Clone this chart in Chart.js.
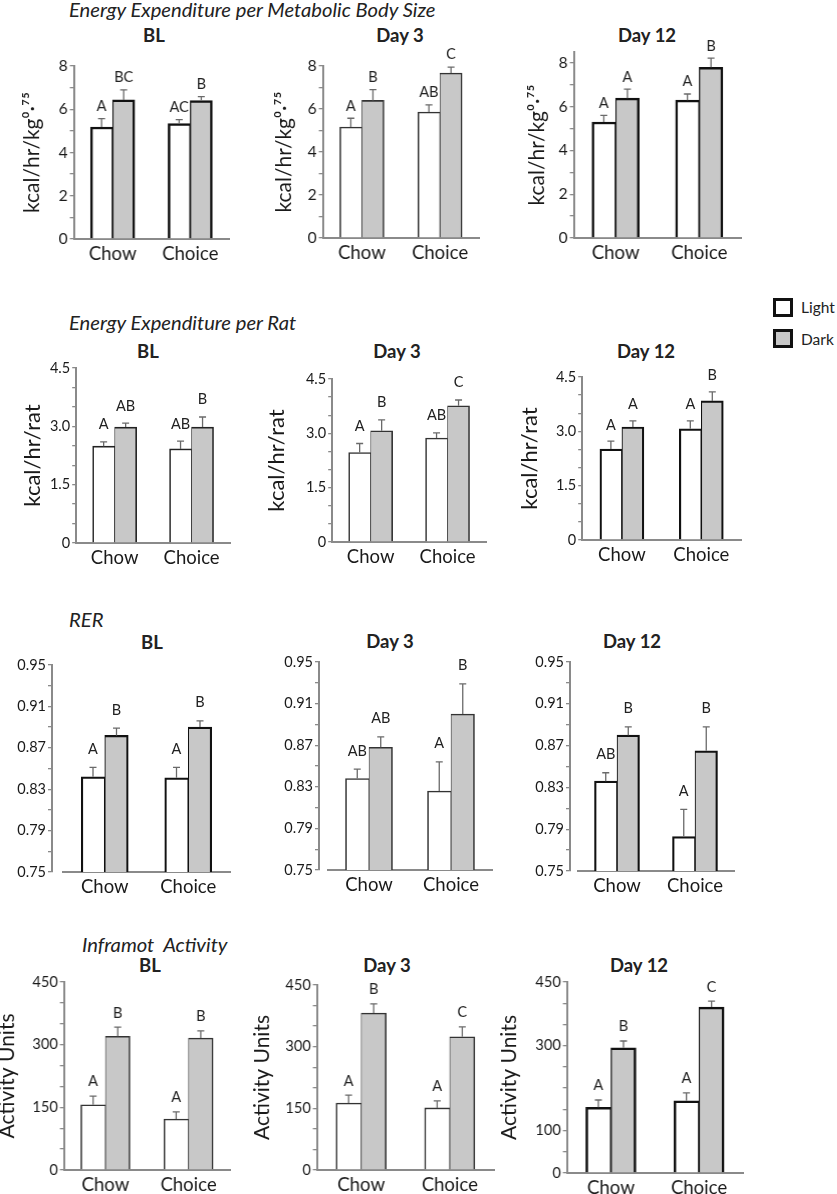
<!DOCTYPE html>
<html>
<head>
<meta charset="utf-8">
<script src="https://cdn.jsdelivr.net/npm/chart.js@4.4.0/dist/chart.umd.min.js"></script>
<style>
  body { margin: 0; background: #fff; font-family: Lato, 'Open Sans', sans-serif; color: #222; }
  #page { position: relative; width: 837px; height: 1194px; overflow: hidden; background: #fff; }
  .panel { position: absolute; }
  .section { position: absolute; font-style: italic; font-size: 20.2px; line-height: 22px; white-space: pre; transform: translateY(-50%); }
  .ptitle { position: absolute; font-weight: bold; font-size: 18.5px; line-height: 22px; white-space: nowrap; transform: translate(-50%, -50%); }
  .lbox { position: absolute; width: 14px; height: 13px; border: 3px solid #111; }
  .ltext { position: absolute; font-size: 15.5px; line-height: 18px; transform: translateY(-50%); }
</style>
</head>
<body>
<div id="page">
  <div class="section" style="left:69px; top:9px;">Energy Expenditure per Metabolic Body Size</div>
  <div class="section" style="left:69px; top:322px;">Energy Expenditure per Rat</div>
  <div class="section" style="left:69px; top:619px;">RER</div>
  <div class="section" style="left:82px; top:944px;">Inframot  Activity</div>

  <div class="ptitle" style="left:154px; top:35px;">BL</div>
  <div class="ptitle" style="left:400px; top:35px;">Day 3</div>
  <div class="ptitle" style="left:647px; top:35px;">Day 12</div>
  <div class="ptitle" style="left:148px; top:351px;">BL</div>
  <div class="ptitle" style="left:397px; top:351px;">Day 3</div>
  <div class="ptitle" style="left:646px; top:351px;">Day 12</div>
  <div class="ptitle" style="left:152px; top:642px;">BL</div>
  <div class="ptitle" style="left:390px; top:641px;">Day 3</div>
  <div class="ptitle" style="left:632px; top:641px;">Day 12</div>
  <div class="ptitle" style="left:150px; top:965px;">BL</div>
  <div class="ptitle" style="left:387px; top:965px;">Day 3</div>
  <div class="ptitle" style="left:639px; top:965px;">Day 12</div>

  <div class="lbox" style="left:773px; top:298px; background:#fff;"></div>
  <div class="ltext" style="left:801px; top:307px;">Light</div>
  <div class="lbox" style="left:773px; top:329px; background:#c8c8c8;"></div>
  <div class="ltext" style="left:801px; top:339px;">Dark</div>
</div>

<script>
const groups = ['Chow', 'Choice'];  // categories on every x axis

// tick labels, only these values get a label, the other ticks are minor marks
const mbsTicks = [0, 2, 4, 6, 8];
const ratTicks = [0, 1.5, 3.0, 4.5];
const rerTicks = [0.75, 0.79, 0.83, 0.87, 0.91, 0.95];
const actTicks = [0, 150, 300, 450];
const act12Ticks = [0, 100, 300, 450];

// Energy Expenditure per Metabolic Body Size (kcal/hr/kg^0.75)
const mbsBlLight = [5.18, 5.34];
const mbsBlLightErr = [0.39, 0.18];
const mbsBlDark = [6.43, 6.40];
const mbsBlDarkErr = [0.47, 0.18];
const mbsBlLightLetters = ['A', 'AC'];
const mbsBlDarkLetters = ['BC', 'B'];

const mbsD3Light = [5.16, 5.86];
const mbsD3LightErr = [0.41, 0.33];
const mbsD3Dark = [6.40, 7.67];
const mbsD3DarkErr = [0.50, 0.28];
const mbsD3LightLetters = ['A', 'AB'];
const mbsD3DarkLetters = ['B', 'C'];

const mbsD12Light = [5.30, 6.30];
const mbsD12LightErr = [0.30, 0.28];
const mbsD12Dark = [6.39, 7.80];
const mbsD12DarkErr = [0.41, 0.42];
const mbsD12LightLetters = ['A', 'A'];
const mbsD12DarkLetters = ['A', 'B'];

// Energy Expenditure per Rat (kcal/hr/rat)
const ratBlLight = [2.49, 2.42];
const ratBlLightErr = [0.11, 0.20];
const ratBlDark = [2.98, 2.98];
const ratBlDarkErr = [0.10, 0.26];
const ratBlLightLetters = ['A', 'AB'];
const ratBlDarkLetters = ['AB', 'B'];

const ratD3Light = [2.47, 2.87];
const ratD3LightErr = [0.25, 0.14];
const ratD3Dark = [3.07, 3.76];
const ratD3DarkErr = [0.30, 0.16];
const ratD3LightLetters = ['A', 'AB'];
const ratD3DarkLetters = ['B', 'C'];

const ratD12Light = [2.51, 3.07];
const ratD12LightErr = [0.22, 0.22];
const ratD12Dark = [3.12, 3.84];
const ratD12DarkErr = [0.17, 0.25];
const ratD12LightLetters = ['A', 'A'];
const ratD12DarkLetters = ['A', 'B'];

// RER
const rerBlLight = [0.842, 0.841];
const rerBlLightErr = [0.009, 0.010];
const rerBlDark = [0.882, 0.890];
const rerBlDarkErr = [0.007, 0.006];
const rerBlLightLetters = ['A', 'A'];
const rerBlDarkLetters = ['B', 'B'];

const rerD3Light = [0.838, 0.826];
const rerD3LightErr = [0.009, 0.028];
const rerD3Dark = [0.868, 0.900];
const rerD3DarkErr = [0.010, 0.029];
const rerD3LightLetters = ['AB', 'A'];
const rerD3DarkLetters = ['AB', 'B'];

const rerD12Light = [0.836, 0.783];
const rerD12LightErr = [0.008, 0.026];
const rerD12Dark = [0.880, 0.865];
const rerD12DarkErr = [0.008, 0.023];
const rerD12LightLetters = ['AB', 'A'];
const rerD12DarkLetters = ['B', 'B'];

// Inframot Activity (activity units)
const actBlLight = [156, 122];
const actBlLightErr = [21, 17];
const actBlDark = [320, 316];
const actBlDarkErr = [22, 17];
const actBlLightLetters = ['A', 'A'];
const actBlDarkLetters = ['B', 'B'];

const actD3Light = [163, 151];
const actD3LightErr = [19, 17];
const actD3Dark = [382, 324];
const actD3DarkErr = [22, 24];
const actD3LightLetters = ['A', 'A'];
const actD3DarkLetters = ['B', 'C'];

const actD12Light = [155, 170];
const actD12LightErr = [17, 19];
const actD12Dark = [295, 391];
const actD12DarkErr = [16, 14];
const actD12LightLetters = ['A', 'A'];
const actD12DarkLetters = ['B', 'C'];


const FONT = 'Lato, "Open Sans", sans-serif';
const AXIS = '#8a8a8a';
const PAD_TOP = 30;   // room above the chart area for tick labels and letters
const PAD_RIGHT = 6;
const X_AXIS_H = 24;  // fixed height of the category axis


// draws the upper error whisker and the letter above each bar
const errorBarPlugin = {
  id: 'errorBars',
  afterDatasetsDraw(chart) {
    let ctx = chart.ctx;
    let yScale = chart.scales.y;
    let gap = chart.options.plugins.errorBars.gap;
    chart.data.datasets.forEach((ds, i) => {
      chart.getDatasetMeta(i).data.forEach((bar, j) => {
        let top = yScale.getPixelForValue(ds.data[j] + ds.errors[j]);
        ctx.save();
        ctx.strokeStyle = '#6a6a6a';
        ctx.lineWidth = 1.3;
        ctx.beginPath();
        ctx.moveTo(bar.x, bar.y);
        ctx.lineTo(bar.x, top);
        ctx.moveTo(bar.x - 3.5, top);
        ctx.lineTo(bar.x + 3.5, top);
        ctx.stroke();
        ctx.fillStyle = '#222';
        ctx.font = '14.5px ' + FONT;
        ctx.textAlign = 'center';
        ctx.textBaseline = 'bottom';
        ctx.fillText(ds.letters[j], bar.x, top - gap);
        ctx.restore();
      });
    });
  }
};


function tickText(value, p) {
  let hit = p.ticks.find(t => Math.abs(t - value) < 1e-6);  // only major values get a label
  if (hit === undefined) return '';
  if (hit === 0) return '0';
  return hit.toFixed(p.dec);
}


function makePanel(p) {
  let gap = p.gap || 0;
  let W = p.yTitle ? p.titleOff + p.titleSize * 0.6 : p.yw;  // width of the y axis box
  let left = p.axisX - W;
  let width = W + (p.right - p.axisX) + PAD_RIGHT;
  let height = PAD_TOP + (p.zero - p.top) + X_AXIS_H;

  let canvas = document.createElement('canvas');
  canvas.className = 'panel';
  canvas.style.left = left + 'px';
  canvas.style.top = (p.top - PAD_TOP) + 'px';
  canvas.width = width;
  canvas.height = height;
  canvas.style.width = width + 'px';
  canvas.style.height = height + 'px';
  document.getElementById('page').appendChild(canvas);

  let half = p.bw / 2;
  let scales = {
    x: {
      type: 'category',
      offset: true,
      grid: { display: false },
      border: { display: true, color: AXIS, width: 2 },
      ticks: { color: '#1a1a1a', font: { size: 18.5, family: FONT }, padding: -4, maxRotation: 0 },
      afterFit: s => { s.height = X_AXIS_H; }
    },
    y: {
      type: 'linear',
      position: 'left',
      weight: 10,
      min: p.min,
      max: p.max,
      ticks: {
        stepSize: p.step,
        autoSkip: false,
        includeBounds: p.includeBounds !== false,
        color: '#1a1a1a',
        font: { size: p.tickSize, family: FONT },
        padding: 2,
        callback: v => tickText(v, p)
      },
      grid: { drawOnChartArea: false, drawTicks: true, tickLength: 4, color: AXIS, lineWidth: 1.3 },
      border: { display: true, color: AXIS, width: 2 },
      title: { display: !!p.yTitle, text: p.yTitle || '', color: '#1a1a1a', font: { size: p.titleSize, family: FONT }, padding: 0 },
      afterFit: s => { s.width = W; }
    }
  };
  if (gap) {  // RER plots: the x axis starts a little right of the y axis
    scales.gap = {
      type: 'linear',
      position: 'left',
      weight: 0,
      ticks: { display: false },
      grid: { display: false },
      border: { display: false },
      afterFit: s => { s.width = gap; }
    };
  }

  new Chart(canvas, {
    type: 'bar',
    data: {
      labels: groups,
      datasets: [{
        label: 'Light',
        data: p.light,
        errors: p.lightErr,
        letters: p.lightLetters,
        backgroundColor: '#ffffff',
        borderColor: p.bc,
        borderWidth: { top: p.bw, left: p.bw, right: half, bottom: 0 },
        borderSkipped: false,
        barThickness: p.barW
      }, {
        label: 'Dark',
        data: p.dark,
        errors: p.darkErr,
        letters: p.darkLetters,
        backgroundColor: '#c8c8c8',
        borderColor: p.bc,
        borderWidth: { top: p.bw, left: half, right: p.bw, bottom: 0 },
        borderSkipped: false,
        barThickness: p.barW
      }]
    },
    options: {
      responsive: false,
      animation: false,
      layout: { padding: { top: PAD_TOP, right: PAD_RIGHT, bottom: 0, left: 0 } },
      scales: scales,
      plugins: {
        legend: { display: false },
        tooltip: { enabled: false },
        errorBars: { gap: p.letterGap }
      }
    },
    plugins: [errorBarPlugin]
  });
}


let mbsTitle = 'kcal/hr/kg\u2070\u00b7\u2077\u2075';

let panels = [
  // row 1
  { axisX: 74, top: 66, zero: 239, right: 229, min: 0, max: 8, step: 1, ticks: mbsTicks, dec: 0, tickSize: 15.5,
    yTitle: mbsTitle, titleSize: 21, titleOff: 41, barW: 22, bw: 2.5, bc: '#111', letterGap: 5,
    light: mbsBlLight, lightErr: mbsBlLightErr, dark: mbsBlDark, darkErr: mbsBlDarkErr, lightLetters: mbsBlLightLetters, darkLetters: mbsBlDarkLetters },
  { axisX: 323, top: 66, zero: 238, right: 479, min: 0, max: 8, step: 1, ticks: mbsTicks, dec: 0, tickSize: 15.5,
    yTitle: mbsTitle, titleSize: 21, titleOff: 38, barW: 22, bw: 1.6, bc: '#333', letterGap: 5,
    light: mbsD3Light, lightErr: mbsD3LightErr, dark: mbsD3Dark, darkErr: mbsD3DarkErr, lightLetters: mbsD3LightLetters, darkLetters: mbsD3DarkLetters },
  { axisX: 574, top: 52, zero: 238, right: 741, min: 0, max: 8.5, step: 1, includeBounds: false, ticks: mbsTicks, dec: 0, tickSize: 15.5,
    yTitle: mbsTitle, titleSize: 21, titleOff: 36, barW: 23.5, bw: 2.5, bc: '#111', letterGap: 5,
    light: mbsD12Light, lightErr: mbsD12LightErr, dark: mbsD12Dark, darkErr: mbsD12DarkErr, lightLetters: mbsD12LightLetters, darkLetters: mbsD12DarkLetters },
  // row 2
  { axisX: 76, top: 368, zero: 543, right: 230, min: 0, max: 4.5, step: 0.5, ticks: ratTicks, dec: 1, tickSize: 14.5,
    yTitle: 'kcal/hr/rat', titleSize: 22, titleOff: 43, barW: 22, bw: 1.6, bc: '#222', letterGap: 10,
    light: ratBlLight, lightErr: ratBlLightErr, dark: ratBlDark, darkErr: ratBlDarkErr, lightLetters: ratBlLightLetters, darkLetters: ratBlDarkLetters },
  { axisX: 332, top: 379, zero: 542, right: 486, min: 0, max: 4.5, step: 0.5, ticks: ratTicks, dec: 1, tickSize: 14.5,
    yTitle: 'kcal/hr/rat', titleSize: 22, titleOff: 55, barW: 22, bw: 1.6, bc: '#333', letterGap: 10,
    light: ratD3Light, lightErr: ratD3LightErr, dark: ratD3Dark, darkErr: ratD3DarkErr, lightLetters: ratD3LightLetters, darkLetters: ratD3DarkLetters },
  { axisX: 582, top: 377, zero: 540, right: 741, min: 0, max: 4.5, step: 0.5, ticks: ratTicks, dec: 1, tickSize: 14.5,
    yTitle: 'kcal/hr/rat', titleSize: 22, titleOff: 52, barW: 22, bw: 2.2, bc: '#111', letterGap: 9,
    light: ratD12Light, lightErr: ratD12LightErr, dark: ratD12Dark, darkErr: ratD12DarkErr, lightLetters: ratD12LightLetters, darkLetters: ratD12DarkLetters },
  // row 3
  { axisX: 52, gap: 11, yw: 45, top: 665, zero: 872, right: 230, min: 0.75, max: 0.95, step: 0.02, ticks: rerTicks, dec: 2, tickSize: 14.5,
    barW: 23.5, bw: 2.2, bc: '#111', letterGap: 11,
    light: rerBlLight, lightErr: rerBlLightErr, dark: rerBlDark, darkErr: rerBlDarkErr, lightLetters: rerBlLightLetters, darkLetters: rerBlDarkLetters },
  { axisX: 319, gap: 9, yw: 45, top: 662, zero: 870, right: 492, min: 0.75, max: 0.95, step: 0.02, ticks: rerTicks, dec: 2, tickSize: 14.5,
    barW: 23.5, bw: 1.6, bc: '#333', letterGap: 11,
    light: rerD3Light, lightErr: rerD3LightErr, dark: rerD3Dark, darkErr: rerD3DarkErr, lightLetters: rerD3LightLetters, darkLetters: rerD3DarkLetters },
  { axisX: 570, gap: 8, yw: 45, top: 662, zero: 871, right: 734, min: 0.75, max: 0.95, step: 0.02, ticks: rerTicks, dec: 2, tickSize: 14.5,
    barW: 22.5, bw: 2.2, bc: '#111', letterGap: 11,
    light: rerD12Light, lightErr: rerD12LightErr, dark: rerD12Dark, darkErr: rerD12DarkErr, lightLetters: rerD12LightLetters, darkLetters: rerD12DarkLetters },
  // row 4
  { axisX: 64, top: 982, zero: 1170, right: 230, min: 0, max: 450, step: 50, ticks: actTicks, dec: 0, tickSize: 14.5,
    yTitle: 'Activity Units', titleSize: 21, titleOff: 56, barW: 24.5, bw: 1.6, bc: '#333', letterGap: 7,
    light: actBlLight, lightErr: actBlLightErr, dark: actBlDark, darkErr: actBlDarkErr, lightLetters: actBlLightLetters, darkLetters: actBlDarkLetters },
  { axisX: 317, top: 985, zero: 1170, right: 494, min: 0, max: 450, step: 50, ticks: actTicks, dec: 0, tickSize: 14.5,
    yTitle: 'Activity Units', titleSize: 21, titleOff: 54, barW: 25, bw: 1.6, bc: '#333', letterGap: 7,
    light: actD3Light, lightErr: actD3LightErr, dark: actD3Dark, darkErr: actD3DarkErr, lightLetters: actD3LightLetters, darkLetters: actD3DarkLetters },
  { axisX: 567, top: 982, zero: 1173, right: 743, min: 0, max: 450, step: 50, ticks: act12Ticks, dec: 0, tickSize: 14.5,
    yTitle: 'Activity Units', titleSize: 21, titleOff: 57, barW: 25, bw: 2.6, bc: '#111', letterGap: 7,
    light: actD12Light, lightErr: actD12LightErr, dark: actD12Dark, darkErr: actD12DarkErr, lightLetters: actD12LightLetters, darkLetters: actD12DarkLetters }
];

panels.forEach(p => makePanel(p));
</script>
</body>
</html>
